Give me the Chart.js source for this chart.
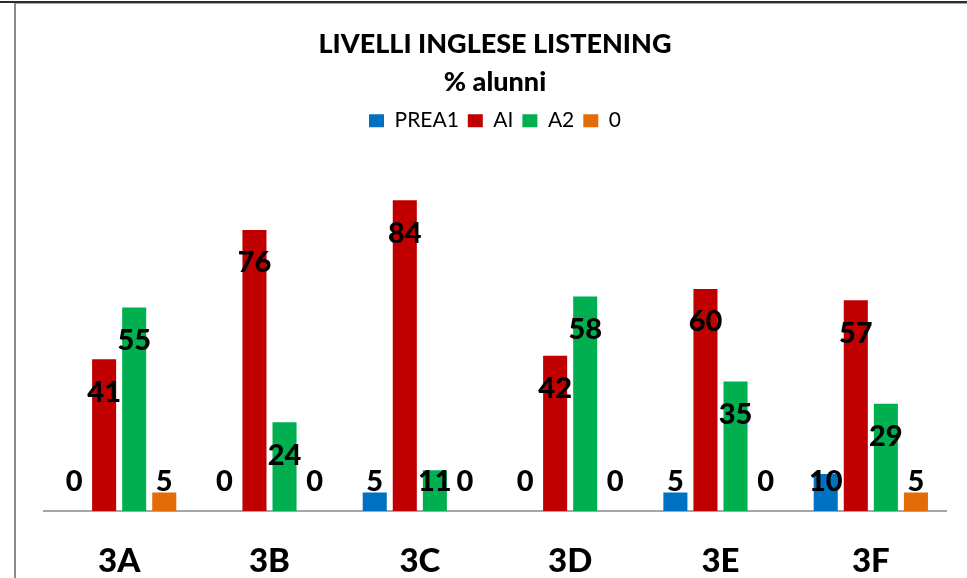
<!DOCTYPE html>
<html>
<head>
<meta charset="utf-8">
<script src="https://cdn.jsdelivr.net/npm/chart.js@4"></script>
<style>
  html, body { margin: 0; padding: 0; background: #fff; }
  #wrap { position: relative; width: 967px; height: 578px; overflow: hidden; }
  #signalChart { position: absolute; left: 0; top: 0; }
  .topLine { position: absolute; left: 0; top: 1px; width: 967px; height: 2px; background: #2b2b2b; }
  .topShade { position: absolute; left: 14px; top: 3px; width: 953px; height: 1px; background: #a8a8a8; }
  .leftLine { position: absolute; left: 14px; top: 3px; width: 2px; height: 575px; background: #8c8c8c; }
</style>
</head>
<body>
<div id="wrap">
  <canvas id="signalChart" width="967" height="612"></canvas>
  <div class="topLine"></div>
  <div class="topShade"></div>
  <div class="leftLine"></div>
</div>
<script>
const classes = ["3A", "3B", "3C", "3D", "3E", "3F"];
const prea1 = [0, 0, 5, 0, 5, 10];
const ai = [41, 76, 84, 42, 60, 57];
const a2 = [55, 24, 11, 58, 35, 29];
const zero = [5, 0, 0, 0, 0, 5];

const seriesNames = ["PREA1", "AI", "A2", "0"];
const seriesColors = ["#0070C0", "#C00000", "#00B050", "#E36C09"];

let chart = null;

// value labels, "inside end" like Excel, pushed up when the bar is too short
const valueLabels = {
  id: "valueLabels",
  afterDatasetsDraw(c) {
    const ctx = c.ctx;
    ctx.save();
    ctx.font = "900 29px Lato";
    ctx.fillStyle = "#000";
    ctx.textAlign = "center";
    ctx.textBaseline = "middle";
    c.data.datasets.forEach((ds, i) => {
      const meta = c.getDatasetMeta(i);
      meta.data.forEach((bar, j) => {
        const y = Math.min(bar.y + 33, bar.base - 29);
        ctx.fillText(String(ds.data[j]), bar.x, y);
      });
    });
    ctx.restore();
  }
};

function drawChart() {
  const ctx = document.getElementById("signalChart").getContext("2d");

  const datasets = [prea1, ai, a2, zero].map((values, i) => ({
    label: seriesNames[i],
    data: values,
    backgroundColor: seriesColors[i],
    borderWidth: 0,
    barPercentage: 0.8,
    categoryPercentage: 0.8
  }));

  chart = new Chart(ctx, {
    type: "bar",
    data: {
      labels: classes,
      datasets: datasets
    },
    options: {
      responsive: false,
      animation: false,
      layout: {
        padding: { left: 44, right: 21, top: 0, bottom: 0 }
      },
      plugins: {
        title: {
          display: true,
          text: ["LIVELLI INGLESE LISTENING", "% alunni"],
          color: "#000",
          font: { family: "Lato", size: 27, weight: "900", lineHeight: 1.41 },
          padding: { top: 25, bottom: 0 }
        },
        legend: {
          display: true,
          labels: {
            color: "#000",
            font: { family: "Lato", size: 21 },
            boxWidth: 15,
            boxHeight: 13,
            padding: 9
          }
        },
        tooltip: { enabled: false }
      },
      scales: {
        x: {
          grid: { display: false, drawTicks: false },
          border: { display: true, color: "#a6a6a6", width: 2 },
          ticks: {
            color: "#000",
            font: { family: "Lato", size: 33, weight: "900", lineHeight: 1 },
            padding: 34
          }
        },
        y: {
          display: false,
          min: 0,
          max: 100
        }
      }
    },
    plugins: [valueLabels]
  });
}

drawChart();
</script>
</body>
</html>
